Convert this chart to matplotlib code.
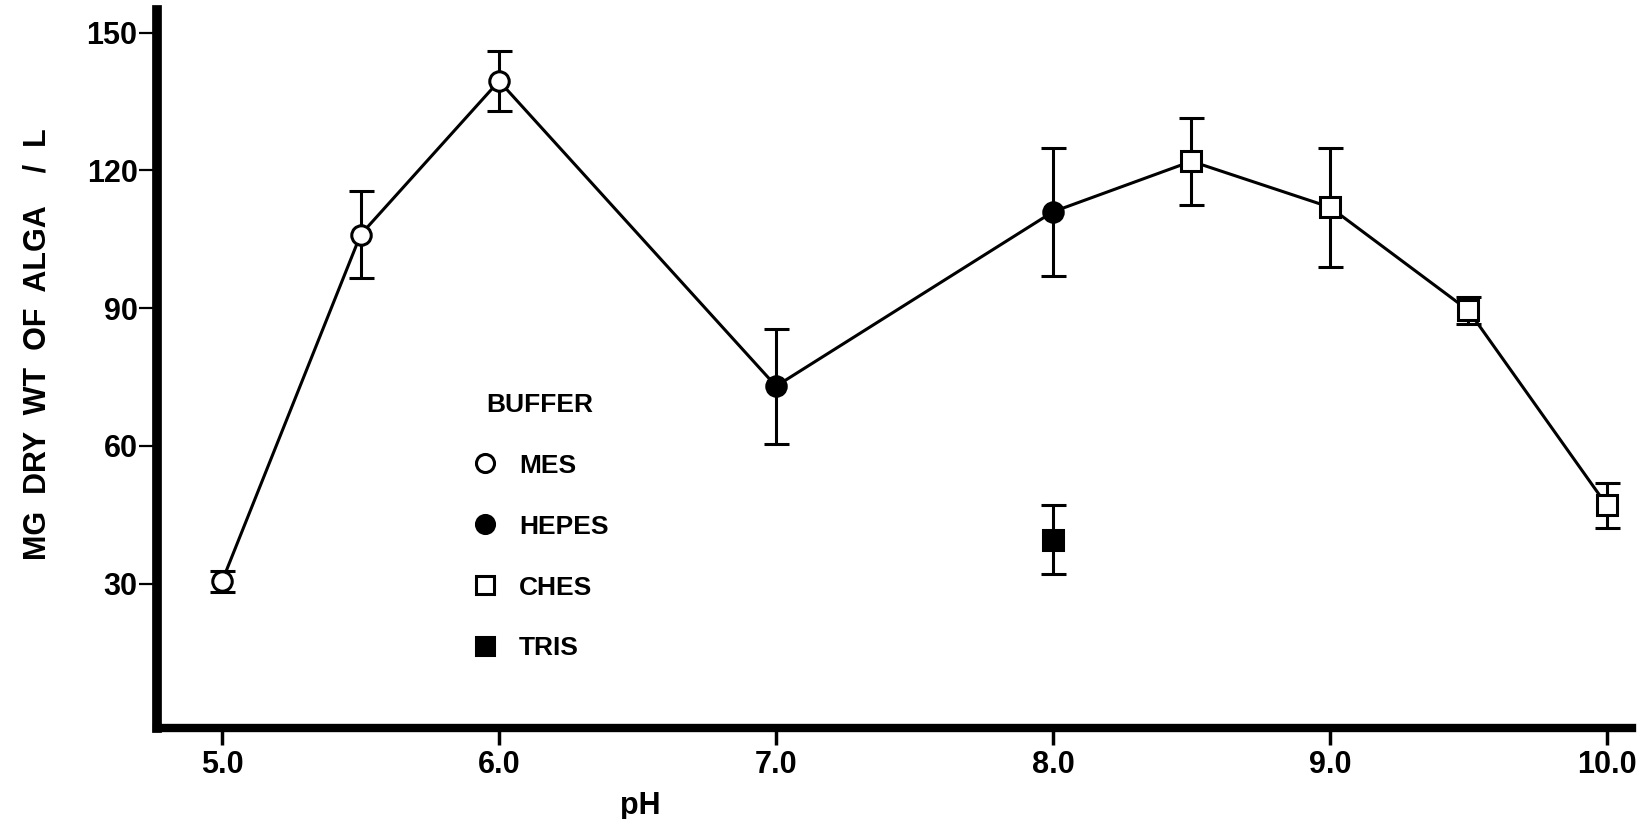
import numpy as np
import matplotlib
matplotlib.use('Agg')
import matplotlib.pyplot as plt
from matplotlib.lines import Line2D

plt.rcParams['font.family'] = ['Liberation Sans', 'DejaVu Sans']
plt.rcParams['font.weight'] = 'bold'

# Data (pH vs mg dry wt of alga / L)
mes_ph = [5.0, 5.5, 6.0]
mes_val = [30.5, 106.0, 139.5]
mes_err = [2.3, 9.5, 6.5]

hepes_ph = [7.0, 8.0]
hepes_val = [73.0, 111.0]
hepes_err = [12.5, 14.0]

ches_ph = [8.5, 9.0, 9.5, 10.0]
ches_val = [122.0, 112.0, 89.5, 47.0]
ches_err = [9.5, 13.0, 3.0, 5.0]

tris_ph = [8.0]
tris_val = [39.5]
tris_err = [7.5]

x_ticks = [5.0, 6.0, 7.0, 8.0, 9.0, 10.0]
x_labels = ['5.0', '6.0', '7.0', '8.0', '9.0', '10.0']
y_ticks = [30, 60, 90, 120, 150]

fig = plt.figure(figsize=(16.46, 8.19), dpi=100)
ax = fig.add_axes([0.0954, 0.111, 0.896, 0.877])

# connecting line through MES, HEPES, CHES points
line_x = mes_ph + hepes_ph + ches_ph
line_y = mes_val + hepes_val + ches_val
ax.plot(line_x, line_y, '-', color='black', lw=2.2, zorder=1)

ebkw = dict(ecolor='black', elinewidth=2.2, capsize=9, capthick=2.2,
            ls='none', markersize=14, markeredgewidth=2.2,
            markeredgecolor='black', zorder=2)
ax.errorbar(mes_ph, mes_val, yerr=mes_err, fmt='o', markerfacecolor='white', **ebkw)
ax.errorbar(hepes_ph, hepes_val, yerr=hepes_err, fmt='o', markerfacecolor='black', **ebkw)
ax.errorbar(ches_ph, ches_val, yerr=ches_err, fmt='s', markerfacecolor='white', **ebkw)
ax.errorbar(tris_ph, tris_val, yerr=tris_err, fmt='s', markerfacecolor='black', **ebkw)

ax.set_xlim(4.765, 10.09)
ax.set_ylim(-1.5, 155)
ax.set_xticks(x_ticks)
ax.set_xticklabels(x_labels)
ax.set_yticks(y_ticks)

for s in ['top', 'right']:
    ax.spines[s].set_visible(False)
ax.spines['left'].set_linewidth(7)
ax.spines['bottom'].set_linewidth(6)

ax.tick_params(axis='y', direction='out', length=13, width=1.6, pad=1, labelsize=22)
ax.tick_params(axis='x', direction='out', length=12, width=2.5, pad=4, labelsize=22)
for lab in ax.get_xticklabels() + ax.get_yticklabels():
    lab.set_fontweight('bold')

fig.text(0.0225, 0.58, 'MG  DRY  WT  OF  ALGA    /  L', rotation=90, ha='center', va='center',
         fontsize=22, fontweight='bold')
fig.text(0.389, 0.016, 'pH', ha='center', va='center', fontsize=22, fontweight='bold')

# legend
handles = [
    Line2D([], [], ls='none', marker='o', markersize=13, mfc='white', mec='black', mew=2.2),
    Line2D([], [], ls='none', marker='o', markersize=13, mfc='black', mec='black', mew=2.2),
    Line2D([], [], ls='none', marker='s', markersize=13, mfc='white', mec='black', mew=2.2),
    Line2D([], [], ls='none', marker='s', markersize=13, mfc='black', mec='black', mew=2.2),
]
leg = ax.legend(handles, ['MES', 'HEPES', 'CHES', 'TRIS'], title='BUFFER',
                frameon=False, loc='upper left', bbox_to_anchor=(0.197, 0.50),
                prop={'size': 19, 'weight': 'bold'}, labelspacing=1.4,
                handletextpad=0.8, handlelength=1.0)
leg.get_title().set_fontsize(19)
leg.get_title().set_fontweight('bold')

plt.savefig('out.png', dpi=100)
